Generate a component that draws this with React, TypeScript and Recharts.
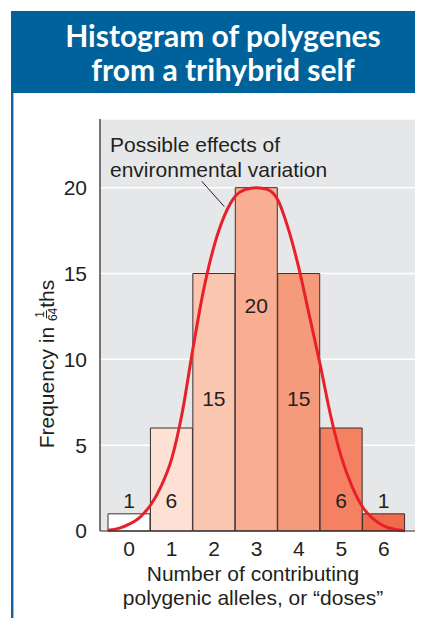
import React from 'react';
import {
  ComposedChart,
  Bar,
  Line,
  XAxis,
  YAxis,
  CartesianGrid,
  Cell,
  LabelList,
  ReferenceLine,
} from 'recharts';

// histogram: number of contributing alleles vs frequency (in 64ths)
const doses = ['0', '1', '2', '3', '4', '5', '6'];
const frequency = [1, 6, 15, 20, 15, 6, 1];
const barColors = ['#ffffff', '#fde1d5', '#fbc6b0', '#f9ae93', '#f69a7c', '#f48262', '#f26a4c'];
const yTicks = [0, 5, 10, 15, 20];
const xTicks = [0, 1, 2, 3, 4, 5, 6];

// red curve
const curveX = [
  -0.5, -0.25, 0, 0.25, 0.5, 0.75, 1, 1.25, 1.5, 1.75, 2, 2.25, 2.5, 2.75, 3,
  3.25, 3.5, 3.75, 4, 4.25, 4.5, 4.75, 5, 5.25, 5.5, 5.75, 6, 6.25, 6.5,
];
const curveY = [
  0.05, 0.15, 0.4, 0.8, 1.5, 2.6, 4.2, 6.9, 10.6, 14.0, 16.6, 18.4, 19.5, 19.9, 20,
  19.9, 19.3, 17.6, 15.3, 12.5, 9.7, 6.7, 4.3, 2.6, 1.4, 0.7, 0.3, 0.1, 0.02,
];

const barData = doses.map((d, i) => ({ dose: d, freq: frequency[i] }));
const curveData = curveX.map((x, i) => ({ x, y: curveY[i] }));

const TEXT = '#231f20';
const FONT = '"Liberation Sans", Arial, sans-serif';
const FS = 21;

// label heights above the baseline, px
const labelLift: Record<number, number> = { 1: 31, 6: 31, 15: 133, 20: 226 };

function BarLabel(props: any) {
  const { x, y, width, height, value } = props;
  const base = y + height;
  return (
    <text
      x={x + width / 2}
      y={base - labelLift[value]}
      textAnchor="middle"
      dominantBaseline="central"
      fontSize={FS}
      fontFamily={FONT}
      fill={TEXT}
    >
      {value}
    </text>
  );
}

export default function App() {
  return (
    <div
      style={{
        position: 'relative',
        width: 423,
        height: 626,
        margin: -8,
        background: '#fff',
        fontFamily: FONT,
        overflow: 'hidden',
      }}
    >
      {/* header */}
      <div
        style={{
          position: 'absolute',
          left: 11,
          top: 11,
          width: 412,
          height: 82,
          background: '#00629b',
          color: '#fff',
          fontFamily: 'Lato, "Open Sans", sans-serif',
          fontWeight: 700,
          fontSize: 30,
          lineHeight: '34px',
          textAlign: 'center',
          paddingLeft: 12,
          boxSizing: 'border-box',
          paddingTop: 7,
        }}
      >
        Histogram of polygenes
        <br />
        from a trihybrid self
      </div>
      <div
        style={{
          position: 'absolute',
          left: 11,
          top: 93,
          width: 2,
          height: 533,
          background: '#1560a0',
          borderRight: '1px solid #8fc0e6',
        }}
      />

      <div style={{ position: 'absolute', left: 0, top: 0 }}>
        <ComposedChart
          width={423}
          height={626}
          data={barData}
          barCategoryGap={0}
          margin={{ top: 119, right: 4, bottom: 65, left: 0 }}
        >
          <CartesianGrid vertical={false} fill="#e6e7e9" stroke="#ffffff" strokeWidth={1.5} />
          <XAxis
            dataKey="dose"
            height={30}
            padding={{ left: 8, right: 14 }}
            tickLine={false}
            axisLine={{ stroke: '#231f20', strokeWidth: 1.2 }}
            tick={{ fontSize: FS, fill: TEXT, fontFamily: FONT }}
            tickMargin={4}
          />
          <XAxis
            xAxisId="curve"
            type="number"
            dataKey="x"
            domain={[-0.5, 6.5]}
            ticks={xTicks}
            padding={{ left: 8, right: 14 }}
            hide
          />
          <YAxis
            width={100}
            domain={[0, 24]}
            ticks={yTicks}
            tickLine={false}
            axisLine={{ stroke: '#231f20', strokeWidth: 1.2 }}
            tick={{ fontSize: FS, fill: TEXT, fontFamily: FONT }}
            tickMargin={7}
          />
          <Bar dataKey="freq" stroke="#3a3030" strokeWidth={1} isAnimationActive={false}>
            {barData.map((_, i) => (
              <Cell key={i} fill={barColors[i]} />
            ))}
            <LabelList dataKey="freq" content={<BarLabel />} />
          </Bar>
          <Line
            xAxisId="curve"
            data={curveData}
            dataKey="y"
            type="monotone"
            stroke="#e8202a"
            strokeWidth={3}
            dot={false}
            isAnimationActive={false}
          />
          <ReferenceLine
            xAxisId="curve"
            segment={[
              { x: 1.71, y: 20.37 },
              { x: 2.24, y: 18.9 },
            ]}
            stroke="#231f20"
            strokeWidth={1}
            ifOverflow="visible"
          />
        </ComposedChart>
      </div>

      {/* annotation */}
      <div
        style={{
          position: 'absolute',
          left: 110,
          top: 132,
          fontSize: FS,
          lineHeight: '25px',
          color: TEXT,
          whiteSpace: 'nowrap',
        }}
      >
        Possible effects of
        <br />
        environmental variation
      </div>

      {/* y-axis title */}
      <div
        style={{
          position: 'absolute',
          left: 47,
          top: 364,
          transform: 'translate(-50%, -50%) rotate(-90deg)',
          fontSize: FS,
          color: TEXT,
          whiteSpace: 'nowrap',
          display: 'flex',
          alignItems: 'center',
        }}
      >
        <span>Frequency in&nbsp;</span>
        <span
          style={{
            display: 'inline-flex',
            flexDirection: 'column',
            alignItems: 'center',
            fontSize: 12,
            lineHeight: '12px',
            marginTop: -2,
          }}
        >
          <span style={{ borderBottom: '1px solid #231f20', padding: '0 1px' }}>1</span>
          <span>64</span>
        </span>
        <span>ths</span>
      </div>

      {/* x-axis title */}
      <div
        style={{
          position: 'absolute',
          left: 253,
          top: 562,
          transform: 'translateX(-50%)',
          fontSize: FS,
          lineHeight: '24px',
          color: TEXT,
          textAlign: 'center',
          whiteSpace: 'nowrap',
        }}
      >
        Number of contributing
        <br />
        polygenic alleles, or “doses”
      </div>
    </div>
  );
}
